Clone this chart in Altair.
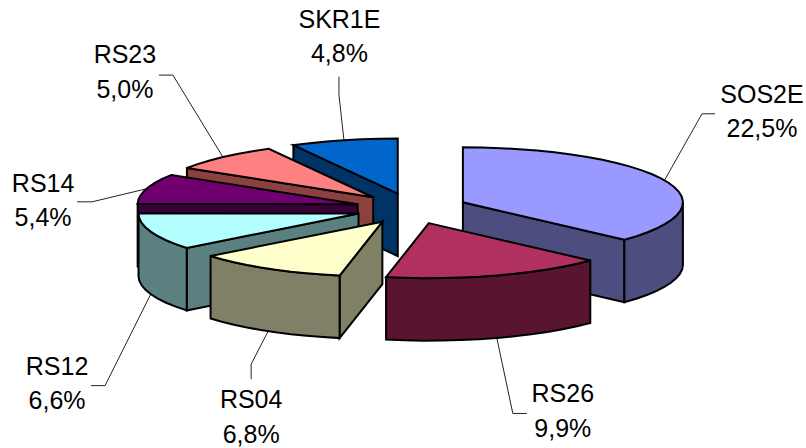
import math
import altair as alt

# Shares shown on the exploded 3-D pie, clockwise from twelve o'clock.
NAMES = ["SOS2E", "RS26", "RS04", "RS12", "RS14", "RS23", "SKR1E"]
SHARES = [22.5, 9.9, 6.8, 6.6, 5.4, 5.0, 4.8]

TOP_COLORS = ["#9999FF", "#B03060", "#FFFFCC", "#B3FFFF", "#700070", "#FF8080", "#0066CC"]
SIDE_COLORS = ["#4D4D80", "#59142F", "#808066", "#5A8080", "#380038", "#8C4040", "#003366"]

# Back slices are painted first so nearer ones overlap them.
PAINT_ORDER = ["SKR1E", "RS23", "RS14", "RS12", "RS04", "SOS2E", "RS26"]

WIDTH, HEIGHT = 806, 448
CX, CY = 411.5, 208.5
RX, RY = 220.0, 55.0
DEPTH = 62.5
EXPLODE_X, EXPLODE_Y = 0.255, 0.28
ARC_STEP = 5.0
FONT_SIZE = 25
LINE_GAP = 34.5

# Leader routing and label placement, relative to the rim midpoint of each slice:
# elbow, leader end, label centre / first baseline.
LEADERS = {
    "SOS2E": ((37.5, -66.5), (50.5, -66.5), (97.5, -77.5)),
    "RS26": ((16, 75.5), (30, 75.5), (66, 64.5)),
    "RS04": ((-17, 33), (-17, 48), (-17, 77)),
    "RS12": ((-45.7, 91.5), (-59.7, 91.5), (-93.7, 80.5)),
    "RS14": ((-54.3, 13), (-69.3, 13), (-103.3, 3)),
    "RS23": ((-50, -82), (-64, -82), (-98, -94)),
    "SKR1E": ((-5, -45.5), (-5, -63.5), (-4.5, -112.5)),
}


def ellipse_point(angle, ox, oy, drop=0.0):
    rad = math.radians(angle)
    return [ox + RX * math.sin(rad), oy - RY * math.cos(rad) + drop]


def arc(start, end):
    count = max(1, int(math.ceil((end - start) / ARC_STEP)))
    return [start + (end - start) * i / count for i in range(count + 1)]


def polygon(points, fill):
    ring = points + [points[0]]
    return {
        "type": "Feature",
        "properties": {"fill": fill},
        "geometry": {"type": "Polygon", "coordinates": [ring]},
    }


total = sum(SHARES)
slices = {}
angle = 0.0
for i, name in enumerate(NAMES):
    sweep = SHARES[i] / total * 360.0
    start, end = angle, angle + sweep
    mid = (start + end) / 2
    rad = math.radians(mid)
    slices[name] = {
        "start": start,
        "end": end,
        "mid": mid,
        "ox": CX + EXPLODE_X * RX * math.sin(rad),
        "oy": CY - EXPLODE_Y * RY * math.cos(rad),
        "share": SHARES[i],
        "top": TOP_COLORS[i],
        "side": SIDE_COLORS[i],
    }
    angle = end

features = []
leader_rows = []
label_rows = []
for name in PAINT_ORDER:
    s = slices[name]
    ox, oy = s["ox"], s["oy"]
    tip = [ox, oy]

    # A cut face shows only when it turns toward the viewer.
    if -math.sin(math.radians(s["start"])) > 1e-6:
        p = ellipse_point(s["start"], ox, oy)
        features.append(polygon([tip, p, [p[0], p[1] + DEPTH], [ox, oy + DEPTH]], s["side"]))
    if math.sin(math.radians(s["end"])) > 1e-6:
        p = ellipse_point(s["end"], ox, oy)
        features.append(polygon([tip, p, [p[0], p[1] + DEPTH], [ox, oy + DEPTH]], s["side"]))

    # The outer wall exists only on the near half of the rim.
    lo, hi = max(s["start"], 90.0), min(s["end"], 270.0)
    if hi > lo:
        upper = [ellipse_point(a, ox, oy) for a in arc(lo, hi)]
        lower = [ellipse_point(a, ox, oy, DEPTH) for a in arc(lo, hi)]
        features.append(polygon(upper + lower[::-1], s["side"]))

    features.append(polygon([tip] + [ellipse_point(a, ox, oy) for a in arc(s["start"], s["end"])], s["top"]))

    # Leaders start on the rim midpoint, on the wall's lower edge for front slices.
    near = 90.0 < s["mid"] < 270.0
    rim = ellipse_point(s["mid"], ox, oy, DEPTH if near else 0.0)
    elbow, stop, label = LEADERS[name]
    route = [rim, [rim[0] + elbow[0], rim[1] + elbow[1]], [rim[0] + stop[0], rim[1] + stop[1]]]
    for k, (px, py) in enumerate(route):
        leader_rows.append({"name": name, "k": k, "px": px, "py": py})

    pct = f"{s['share']:.1f}%".replace(".", ",")
    base_x, base_y = rim[0] + label[0], rim[1] + label[1]
    label_rows.append({"text": name, "px": base_x, "py": base_y})
    label_rows.append({"text": pct, "px": base_x, "py": base_y + LINE_GAP})

pie = (
    alt.Chart(alt.Data(values=features))
    .mark_geoshape(stroke="#000000", strokeWidth=2, strokeJoin="miter")
    .encode(fill=alt.Fill("properties.fill:N", scale=None))
    .project(type="identity", scale=1, translate=[0, 0])
)

leaders = (
    alt.Chart(alt.Data(values=leader_rows))
    .mark_line(color="#222222", strokeWidth=1)
    .encode(
        x=alt.X("px:Q", scale=None, axis=None),
        y=alt.Y("py:Q", scale=None, axis=None),
        detail="name:N",
        order="k:Q",
    )
)

labels = (
    alt.Chart(alt.Data(values=label_rows))
    .mark_text(font="Liberation Sans", fontSize=FONT_SIZE, color="#000000", align="center", baseline="alphabetic")
    .encode(
        x=alt.X("px:Q", scale=None, axis=None),
        y=alt.Y("py:Q", scale=None, axis=None),
        text="text:N",
    )
)

chart = (
    alt.layer(leaders, pie, labels)
    .properties(
        width=WIDTH,
        height=HEIGHT,
        padding=0,
        background="#FFFFFF",
        autosize=alt.AutoSizeParams(type="none"),
    )
    .configure_view(stroke=None)
)

chart.save("out.html", embed_options={"renderer": "svg", "actions": False})
